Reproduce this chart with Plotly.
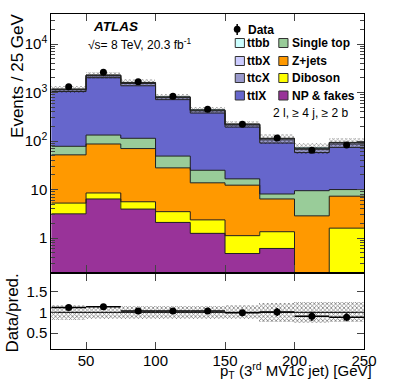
import numpy as np
import plotly.graph_objects as go

# ---------------- data ----------------
bin_edges = [25, 50, 75, 100, 125, 150, 175, 200, 225, 250]
np_fakes   = [3.16, 6.4, 3.96, 2.1, 1.25, 0.48, 0.61, 0.0, 0.0]
diboson    = [2.1, 2.1, 1.64, 1.4, 1.12, 0.64, 0.74, 0.0, 1.6]
zjets      = [46.7, 78.5, 64.4, 24.5, 11.4, 11.2, 5.05, 2.87, 5.7]
single_top = [26, 46, 44, 21, 11.2, 4.3, 1.7, 6.6, 2.7]
ttlX       = [972, 1897, 1266, 666, 353, 178, 83, 48.5, 64]
ttcX       = [90, 180, 160, 68, 42, 20, 15, 9.5, 13]
ttbX       = [30, 65, 58, 24, 15, 7.5, 6, 3.5, 5]
ttbb       = [10, 25, 22, 8, 5, 2.5, 2, 1, 2]
data       = [1320, 2610, 1670, 840, 455, 222, 115, 65, 83]
data_err   = [36, 51, 41, 29, 21, 15, 11, 8, 9]
syst_rel   = [0.18, 0.16, 0.15, 0.15, 0.15, 0.17, 0.23, 0.25, 0.24]

layers = [
    ("NP & fakes", np_fakes, "#993399"),
    ("Diboson", diboson, "#FFFF00"),
    ("Z+jets", zjets, "#FF9900"),
    ("Single top", single_top, "#99CC99"),
    ("ttlX", ttlX, "#6666CC"),
    ("ttcX", ttcX, "#9999CC"),
    ("ttbX", ttbX, "#CCCCFF"),
    ("ttbb", ttbb, "#CCFFFF"),
]

W, H = 407, 391
def px(x): return x / W
def py(y): return 1 - y / H

edges = np.array(bin_edges, dtype=float)
centers = 0.5 * (edges[:-1] + edges[1:])
widths = edges[1:] - edges[:-1]

fig = go.Figure()

# stacked fills
cum = np.zeros(len(centers))
tops = []
for name, vals, col in layers:
    v = np.array(vals, dtype=float)
    base = np.where(cum > 0, cum, 1e-3)
    top = cum + v
    fig.add_trace(go.Bar(x=centers, y=top - base, base=base, width=widths,
                         marker=dict(color=col, line=dict(width=0)),
                         showlegend=False, xaxis="x", yaxis="y"))
    tops.append(top.copy())
    cum = top
total = cum

# step outlines
for top in tops:
    t = np.where(top > 0, top, 1e-3)
    fig.add_trace(go.Scatter(x=edges, y=np.append(t, t[-1]), mode="lines",
                             line=dict(color="#222222", width=1, shape="hv"),
                             showlegend=False, hoverinfo="skip", xaxis="x", yaxis="y"))

# uncertainty band (main)
rel = np.array(syst_rel)
fig.add_trace(go.Bar(x=centers, y=2 * rel * total, base=total * (1 - rel), width=widths,
                     marker=dict(color="rgba(0,0,0,0)", line=dict(width=0),
                                 pattern=dict(shape="x", fgcolor="black", bgcolor="rgba(0,0,0,0)",
                                              size=3, solidity=0.35)),
                     showlegend=False, xaxis="x", yaxis="y"))

# data (main)
fig.add_trace(go.Scatter(x=centers, y=data, mode="markers",
                         marker=dict(color="black", size=7),
                         error_y=dict(type="data", array=data_err, color="black", thickness=1.5, width=0),
                         showlegend=False, xaxis="x", yaxis="y"))

# ratio panel
ratio = np.array(data) / total
ratio_err = np.array(data_err) / total
fig.add_trace(go.Bar(x=centers, y=2 * rel, base=1 - rel, width=widths,
                     marker=dict(color="rgba(0,0,0,0)", line=dict(width=0),
                                 pattern=dict(shape="x", fgcolor="black", bgcolor="rgba(0,0,0,0)",
                                              size=3, solidity=0.45)),
                     showlegend=False, xaxis="x2", yaxis="y2"))
fig.add_trace(go.Scatter(x=[25, 250], y=[1, 1], mode="lines", line=dict(color="black", width=1),
                         showlegend=False, xaxis="x2", yaxis="y2"))
fig.add_trace(go.Scatter(x=centers, y=ratio, mode="markers",
                         marker=dict(color="black", size=7),
                         error_x=dict(type="data", array=widths / 2, color="black", thickness=1.5, width=0),
                         error_y=dict(type="data", array=ratio_err, color="black", thickness=1.5, width=0),
                         showlegend=False, xaxis="x2", yaxis="y2"))

FONT = "Liberation Sans, Arial, Helvetica, sans-serif"
xdom = [px(53), px(376)]
axis_common = dict(showline=True, linecolor="black", linewidth=1, mirror="allticks",
                   ticks="inside", showgrid=False, zeroline=False,
                   tickfont=dict(family=FONT, size=15, color="black"))

fig.update_layout(
    width=W, height=H, margin=dict(l=0, r=0, t=0, b=0),
    paper_bgcolor="white", plot_bgcolor="white", barmode="overlay", bargap=0,
    font=dict(family=FONT, color="black"), showlegend=False,
    xaxis=dict(domain=xdom, range=[25, 250], anchor="y", tickvals=[50, 100, 150, 200, 250],
               showticklabels=False, ticklen=7, **axis_common),
    yaxis=dict(domain=[py(272), py(14)], type="log", range=[-0.70, 4.62], anchor="x",
               tickvals=[1, 10, 100, 1000, 10000],
               ticktext=["1", "10", "10<sup>2</sup>", "10<sup>3</sup>", "10<sup>4</sup>"],
               ticklen=7, minor=dict(ticks="inside", ticklen=4, dtick="D1", showgrid=False),
               **axis_common),
    xaxis2=dict(domain=xdom, range=[25, 250], anchor="y2", tickvals=[50, 100, 150, 200, 250],
                ticklen=7, ticklabelstandoff=-2, **axis_common),
    yaxis2=dict(domain=[py(349), py(274)], range=[0.12, 1.92], anchor="x2",
                tickvals=[0.5, 1, 1.5], ticktext=["0.5", "1", "1.5"], ticklen=7, **axis_common),
)

ann = []
ann.append(dict(text="Events / 25 GeV", xref="paper", yref="paper", x=px(17.5), y=py(76),
                xanchor="center", yanchor="middle", textangle=-90, showarrow=False,
                font=dict(family=FONT, size=17, color="black")))
ann.append(dict(text="Data/pred.", xref="paper", yref="paper", x=px(12), y=py(313),
                xanchor="center", yanchor="middle", textangle=-90, showarrow=False,
                font=dict(family=FONT, size=17, color="black")))
ann.append(dict(text="p<sub>T</sub> (3<sup>rd</sup> MV1c jet) [GeV]", xref="paper", yref="paper",
                x=px(225.5), y=py(370.5), xanchor="left", yanchor="middle", showarrow=False,
                font=dict(family=FONT, size=15, color="black")))
ann.append(dict(text="<b><i>ATLAS</i></b>", xref="paper", yref="paper", x=px(94), y=py(27),
                xanchor="left", yanchor="middle", showarrow=False,
                font=dict(family=FONT, size=13.5, color="black")))
ann.append(dict(text="√s= 8 TeV, 20.3 fb<sup>-1</sup>", xref="paper", yref="paper", x=px(89), y=py(44),
                xanchor="left", yanchor="middle", showarrow=False,
                font=dict(family=FONT, size=12, color="black")))
ann.append(dict(text="2 l, ≥ 4 j, ≥ 2 b", xref="paper", yref="paper", x=px(280), y=py(113),
                xanchor="left", yanchor="middle", showarrow=False,
                font=dict(family=FONT, size=12, color="black")))

shapes = []
# legend: Data
shapes.append(dict(type="circle", xref="paper", yref="paper", x0=px(241.5), x1=px(248.5),
                   y0=py(32.8), y1=py(25.8), fillcolor="black", line=dict(color="black", width=0)))
shapes.append(dict(type="line", xref="paper", yref="paper", x0=px(245), x1=px(245),
                   y0=py(35), y1=py(24), line=dict(color="black", width=1.5)))
ann.append(dict(text="<b>Data</b>", xref="paper", yref="paper", x=px(254), y=py(29.5),
                xanchor="left", yanchor="middle", showarrow=False,
                font=dict(family=FONT, size=12, color="black")))

leg_rows = [43, 61, 78, 95.5]
col1 = [("ttbb", "#CCFFFF"), ("ttbX", "#CCCCFF"), ("ttcX", "#9999CC"), ("ttlX", "#6666CC")]
col2 = [("Single top", "#99CC99"), ("Z+jets", "#FF9900"), ("Diboson", "#FFFF00"), ("NP & fakes", "#993399")]
for (name, col), yy in zip(col1, leg_rows):
    shapes.append(dict(type="rect", xref="paper", yref="paper", x0=px(243), x1=px(252.5),
                       y0=py(yy + 4.5), y1=py(yy - 4.5), fillcolor=col, line=dict(color="#333333", width=1)))
    ann.append(dict(text=f"<b>{name}</b>", xref="paper", yref="paper", x=px(253), y=py(yy),
                    xanchor="left", yanchor="middle", showarrow=False,
                    font=dict(family=FONT, size=12, color="black")))
for (name, col), yy in zip(col2, leg_rows):
    shapes.append(dict(type="rect", xref="paper", yref="paper", x0=px(288), x1=px(297.5),
                       y0=py(yy + 4.5), y1=py(yy - 4.5), fillcolor=col, line=dict(color="#333333", width=1)))
    ann.append(dict(text=f"<b>{name}</b>", xref="paper", yref="paper", x=px(300), y=py(yy),
                    xanchor="left", yanchor="middle", showarrow=False,
                    font=dict(family=FONT, size=12, color="black")))

fig.update_layout(annotations=ann, shapes=shapes)
fig.write_html("out.html", config={"displayModeBar": False},
               post_script="document.body.style.margin='0';document.body.style.padding='0';")
